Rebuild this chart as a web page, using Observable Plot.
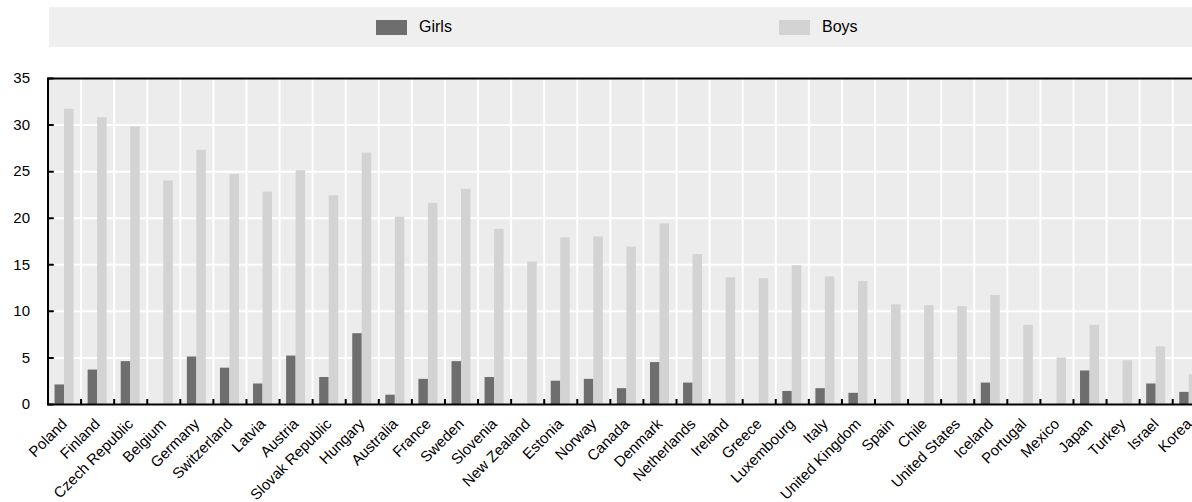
<!DOCTYPE html>
<html><head><meta charset="utf-8">
<script src="https://cdn.jsdelivr.net/npm/d3@7"></script>
<script src="https://cdn.jsdelivr.net/npm/@observablehq/plot@0.6"></script>
<style>
html,body{margin:0;padding:0;overflow:hidden;background:#fff;width:1192px;height:502px;}
body{font-family:Arial,"Liberation Sans",sans-serif;position:relative;}
#legend{position:absolute;left:49px;top:7px;width:1143px;height:40px;background:#efefef;}
.item{position:absolute;top:0;height:40px;display:flex;align-items:center;font-size:16px;color:#000;}
.sw{width:31px;height:15px;margin-right:12px;}
#chart{position:absolute;left:0;top:47px;width:1206px;}
#chart svg{max-width:none !important;}
</style></head>
<body>
<div id="legend"></div>
<div id="chart"></div>
<script>
const countries = ["Poland","Finland","Czech Republic","Belgium","Germany","Switzerland","Latvia","Austria","Slovak Republic","Hungary","Australia","France","Sweden","Slovenia","New Zealand","Estonia","Norway","Canada","Denmark","Netherlands","Ireland","Greece","Luxembourg","Italy","United Kingdom","Spain","Chile","United States","Iceland","Portugal","Mexico","Japan","Turkey","Israel","Korea"];
const girls = [2.1,3.7,4.6,null,5.1,3.9,2.2,5.2,2.9,7.6,1.0,2.7,4.6,2.9,null,2.5,2.7,1.7,4.5,2.3,null,null,1.4,1.7,1.2,null,null,null,2.3,null,null,3.6,null,2.2,1.3];
const boys = [31.7,30.8,29.8,24.0,27.3,24.7,22.8,25.1,22.4,27.0,20.1,21.6,23.1,18.8,15.3,17.9,18.0,16.9,19.4,16.1,13.6,13.5,14.9,13.7,13.2,10.7,10.6,10.5,11.7,8.5,5.0,8.5,4.7,6.2,3.2];
const series = ["Girls","Boys"];
const seriesColors = ["#6e6e6e","#d3d3d3"];
const yTicks = [0,5,10,15,20,25,30,35];

// legend
const legend = document.getElementById("legend");
const legendLeft = [327, 730];
series.forEach((s,i)=>{
  const it = document.createElement("div");
  it.className = "item";
  it.style.left = legendLeft[i] + "px";
  const sw = document.createElement("div");
  sw.className = "sw";
  sw.style.background = seriesColors[i];
  const tx = document.createElement("span");
  tx.textContent = s;
  it.appendChild(sw); it.appendChild(tx);
  legend.appendChild(it);
});

const W = 1206, H = 455, ML = 47.5, MR = 0.7, MT = 31, MB = 98;
const step = (W - ML - MR) / countries.length;
const barW = 9.5;
const pxPerUnit = (H - MT - MB) / 35;

const rows = countries.flatMap((c,i)=>[
  {country:c, sex:"Girls", value:girls[i]},
  {country:c, sex:"Boys", value:boys[i]}
]).filter(d => d.value != null);

const tickShape = {draw(ctx, l){ ctx.moveTo(0,0); ctx.lineTo(0,-l); }};

const plot = Plot.plot({
  width: W, height: H,
  marginLeft: ML, marginRight: MR, marginTop: MT, marginBottom: MB,
  style: {fontFamily: 'Arial, "Liberation Sans", sans-serif', fontSize: "15px", color: "#000", background: "transparent", overflow: "visible", maxWidth: "none"},
  x: {domain: countries, padding: 0, round: false, label: null},
  y: {domain: [0,35], label: null},
  color: {domain: series, range: seriesColors},
  marks: [
    Plot.frame({fill: "#ececec"}),
    Plot.gridY(yTicks.slice(1,-1), {stroke: "#fff", strokeOpacity: 1, strokeWidth: 2}),
    Plot.gridX(countries.slice(0,-1), {dx: step/2, stroke: "#fff", strokeOpacity: 1, strokeWidth: 2}),
    Plot.barY(rows.filter(d => d.sex === "Girls"), {x: "country", y: "value", fill: "sex", insetLeft: step/2 - barW, insetRight: step/2}),
    Plot.barY(rows.filter(d => d.sex === "Boys"), {x: "country", y: "value", fill: "sex", insetLeft: step/2, insetRight: step/2 - barW}),
    Plot.ruleX(countries.slice(0,-1), {x: d => d, y1: 0, y2: 5 / pxPerUnit, dx: step/2, stroke: "#000", strokeWidth: 2}),
    Plot.vector(yTicks, {y: d => d, frameAnchor: "left", length: 5, rotate: 90, anchor: "start", shape: tickShape, stroke: "#000", strokeWidth: 2}),
    Plot.frame({stroke: "#000", strokeWidth: 2}),
    Plot.axisY(yTicks, {tickSize: 0, tickPadding: 18, fontSize: 15, label: null}),
    Plot.axisX({tickSize: 0, tickRotate: -45, tickPadding: 17, fontSize: 15, label: null})
  ]
});
document.getElementById("chart").appendChild(plot);
</script>
</body></html>
